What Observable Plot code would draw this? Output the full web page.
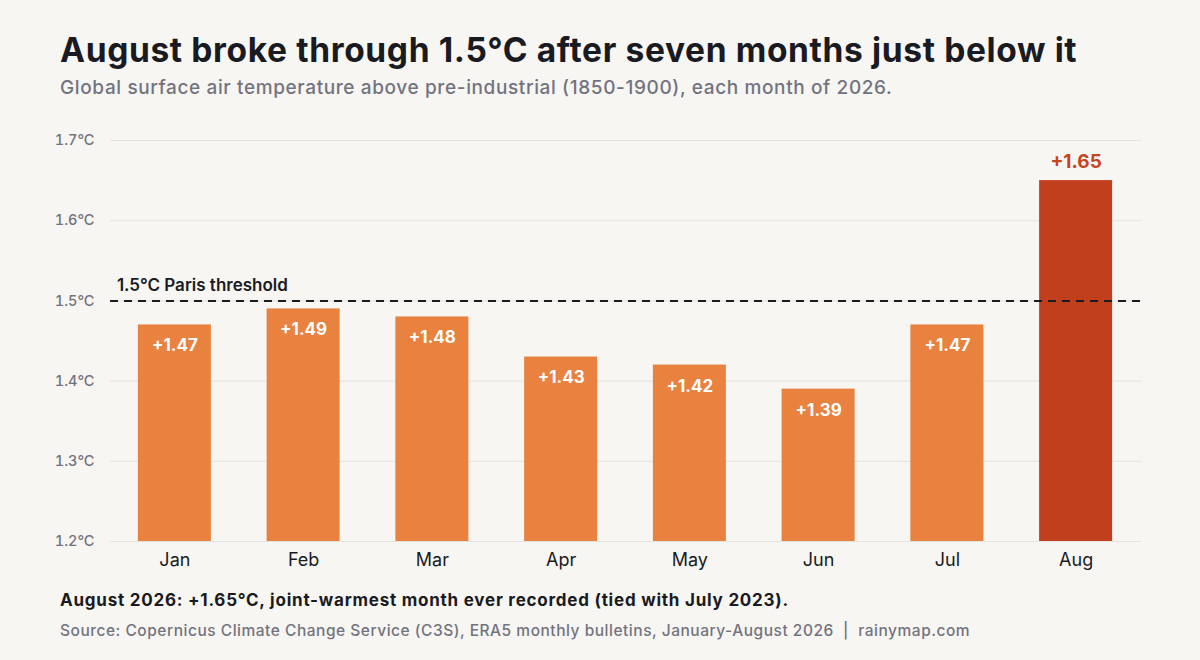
<!DOCTYPE html>
<html><head><meta charset="utf-8">
<script src="https://cdn.jsdelivr.net/npm/d3@7"></script>
<script src="https://cdn.jsdelivr.net/npm/@observablehq/plot@0.6"></script>
<style>
html,body{margin:0;padding:0;background:#f7f6f2;width:1200px;height:660px;overflow:hidden;font-family:Inter,sans-serif}
#title{position:absolute;left:60px;top:29px;font-size:33.5px;line-height:42px;font-weight:700;color:#1a1a22;white-space:pre;letter-spacing:.64px}
#sub{position:absolute;left:60px;top:76px;font-size:19px;line-height:24px;font-weight:500;color:#73737f;white-space:pre;letter-spacing:.62px}
#chart{position:absolute;left:0;top:120px}
#note{position:absolute;left:60px;top:589px;font-size:17px;line-height:22px;font-weight:700;color:#1a1a22;white-space:pre;letter-spacing:.77px}
#src{position:absolute;left:60px;top:621px;font-size:15.5px;line-height:20px;font-weight:500;color:#73737f;white-space:pre;letter-spacing:.52px}
svg text{font-family:Inter,sans-serif}
</style></head><body>
<div id="title"></div><div id="sub"></div><div id="chart"></div><div id="note"></div><div id="src"></div>
<script>
const months=["Jan","Feb","Mar","Apr","May","Jun","Jul","Aug"];
const anomalies=[1.47,1.49,1.48,1.43,1.42,1.39,1.47,1.65];
const yTicks=[1.2,1.3,1.4,1.5,1.6,1.7];
const threshold=1.5;
const titleText="August broke through 1.5°C after seven months just below it";
const subText="Global surface air temperature above pre-industrial (1850-1900), each month of 2026.";
const noteText="August 2026: +1.65°C, joint-warmest month ever recorded (tied with July 2023).";
const srcText="Source: Copernicus Climate Change Service (C3S), ERA5 monthly bulletins, January-August 2026  |  rainymap.com";
document.getElementById("title").textContent=titleText;
document.getElementById("sub").textContent=subText;
document.getElementById("note").textContent=noteText;
document.getElementById("src").textContent=srcText;
const rows=months.map((m,i)=>({m,v:anomalies[i]}));
const last=d=>d.m==="Aug";
const fmt=v=>"+"+v.toFixed(2);
const plot=Plot.plot({
  width:1200,height:450,
  marginLeft:110,marginRight:59,marginTop:20,marginBottom:29,
  style:{background:"transparent",overflow:"visible"},
  x:{type:"band",domain:months,range:[110,1140],round:false,paddingInner:0.433,paddingOuter:0.2165,align:0.5,label:null,tickSize:0},
  y:{domain:[1.2,1.7],ticks:yTicks,label:null},
  marks:[
    Plot.ruleY(yTicks,{stroke:"#e4e3de",strokeWidth:1}),
    Plot.rect(rows,{x:"m",y1:1.2,y2:"v",fill:d=>last(d)?"#c03f1c":"#e8823e"}),
    Plot.ruleY([threshold],{stroke:"#1a1a22",strokeWidth:2,strokeDasharray:"8 6"}),
    Plot.axisY({ticks:yTicks,tickFormat:d=>d.toFixed(1)+"°C",tickSize:0,tickPadding:16,fontSize:14.5,fontWeight:500,color:"#73737f",label:null}),
    Plot.axisX({tickSize:0,tickPadding:12,fontSize:18,color:"#1a1a22",label:null}),
    Plot.text(rows.filter(d=>!last(d)),{x:"m",y:"v",text:d=>fmt(d.v),dy:21,fill:"#fff",fontSize:17,fontWeight:700}),
    Plot.text(rows.filter(last),{x:"m",y:"v",text:d=>fmt(d.v),dy:-19,fill:"#c4451f",fontSize:19,fontWeight:700}),
    Plot.text(["1.5°C Paris threshold"],{x:()=>"Jan",y:()=>threshold,dy:-15,dx:-58,textAnchor:"start",fill:"#1a1a22",fontSize:17,fontWeight:600})
  ]
});
document.getElementById("chart").appendChild(plot);
</script>
</body></html>
